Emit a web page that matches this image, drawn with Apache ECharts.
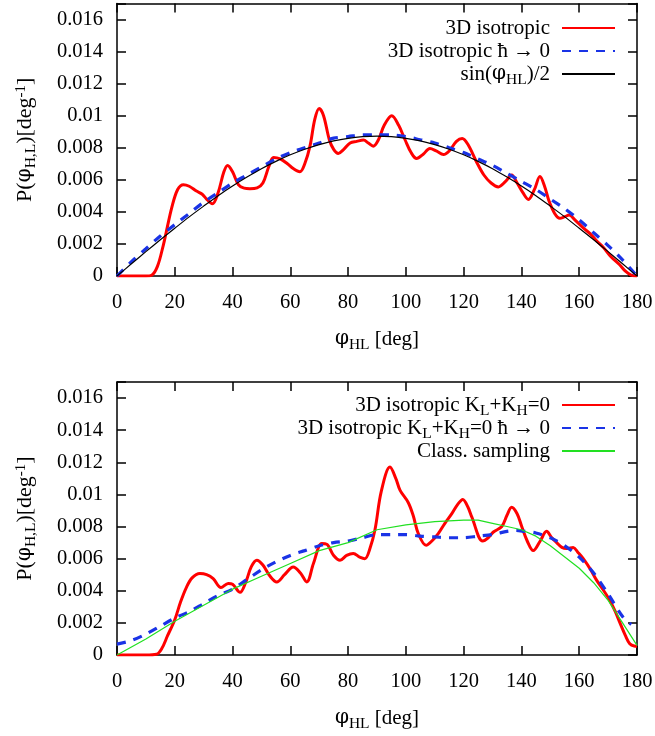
<!DOCTYPE html>
<html><head><meta charset="utf-8">
<script src="https://cdn.jsdelivr.net/npm/echarts@6/dist/echarts.min.js"></script>
<style>html,body{margin:0;padding:0;background:#fff}#c{width:655px;height:736px}</style>
</head><body><div id="c"></div>
<script>
// ---------- top panel data ----------
const topRedX = [0,5,10,12,14,16,17,19,21,23,25,27.5,29.5,31,33,35,37,38.3,40,42,44,46,48.5,50.5,52.5,54.2,56.5,59,61,63.3,65,66.8,68.5,70,71.5,73.5,75,76.6,78.5,80.7,83,85.3,87,88.7,90.5,92.5,95.1,97.5,99.7,101.8,103.7,106,108.3,110.5,113,115,117.5,119.5,121.5,124.5,127,129.5,132,134.5,136.6,138.5,140.5,142.4,144.5,146.4,148,149.5,151.5,153.3,155,156.5,158.5,161.4,164,166,168.3,171,174,176,178,180];
const topRedY = [0,0,0,0.00005,0.0006,0.0019,0.0027,0.0043,0.0054,0.0057,0.0056,0.0053,0.0051,0.0048,0.0045,0.0052,0.0065,0.0069,0.0065,0.0057,0.00548,0.00545,0.0055,0.0058,0.0068,0.0074,0.0073,0.0070,0.0067,0.0065,0.0070,0.0081,0.0098,0.01045,0.0100,0.0085,0.0079,0.00765,0.0079,0.0083,0.0084,0.00848,0.0083,0.0081,0.0085,0.0094,0.0100,0.0094,0.0085,0.0077,0.00733,0.0076,0.00795,0.0078,0.00758,0.0078,0.0084,0.00858,0.0082,0.0071,0.0063,0.0058,0.00556,0.0059,0.0063,0.0058,0.0052,0.00478,0.0054,0.0062,0.0056,0.0047,0.0039,0.0036,0.0037,0.0038,0.0035,0.0030,0.0026,0.0022,0.0018,0.0012,0.0007,0.0003,0.00005,0];
const topBlueX = [0,5,10,15,20,25,30,35,40,45,50,55,60,65,70,75,80,85,90,95,100,105,110,115,120,125,130,135,140,145,150,155,160,165,170,175,180];
const topBlueY = [0,0.0009,0.0017,0.0025,0.0032,0.0039,0.0046,0.0052,0.0058,0.0063,0.0068,0.0073,0.0077,0.0080,0.0083,0.0086,0.0087,0.0088,0.0088,0.0088,0.0087,0.0085,0.0083,0.0080,0.0077,0.0073,0.0069,0.0064,0.0059,0.0054,0.0048,0.0042,0.0035,0.0027,0.0019,0.0010,0];
const topBlackX = [0,5,10,15,20,25,30,35,40,45,50,55,60,65,70,75,80,85,90,95,100,105,110,115,120,125,130,135,140,145,150,155,160,165,170,175,180];
const topBlackY = [0,0.00076,0.00152,0.00226,0.00298,0.00369,0.00436,0.00501,0.00561,0.00617,0.00669,0.00715,0.00756,0.00791,0.00820,0.00843,0.00859,0.00869,0.00873,0.00869,0.00859,0.00843,0.00820,0.00791,0.00756,0.00715,0.00669,0.00617,0.00561,0.00501,0.00436,0.00369,0.00298,0.00226,0.00152,0.00076,0];

// ---------- bottom panel data ----------
const botRedX = [0,10,13.7,15.5,17.5,20,22,24,26,28.7,31,33.3,36,38.5,40,42.6,44.5,46.5,48.4,50.5,53,55.3,58,61,63.5,65.7,68,70.9,72.6,75,77.2,79.5,81.8,84,85.8,87.5,89.3,91.5,94.5,96.5,98,100.8,102.5,104.3,107,109,111.2,113.5,115.9,118,119.7,121.5,122.8,126.6,128.5,130.3,133.2,135,136.6,138.5,140.1,142,144.1,146.5,148.7,150.5,152.2,154,155.7,157.9,159.5,161.4,164,166,168.5,170.6,172.5,174.1,176,177.5,179,180];
const botRedY = [0,0,0.00005,0.0004,0.0012,0.0022,0.0033,0.0042,0.0048,0.00507,0.0050,0.00475,0.0042,0.00445,0.0044,0.0039,0.0045,0.0055,0.0059,0.0056,0.0049,0.00455,0.0050,0.00548,0.0051,0.00455,0.0057,0.00694,0.0069,0.0062,0.0059,0.0062,0.00632,0.0061,0.0060,0.0066,0.0078,0.0102,0.0117,0.0110,0.01025,0.0095,0.0087,0.00756,0.00683,0.0071,0.00756,0.0082,0.0088,0.0094,0.00969,0.0092,0.0086,0.0071,0.0073,0.00766,0.0080,0.0087,0.0092,0.0088,0.0080,0.0071,0.0065,0.0071,0.0077,0.0073,0.0070,0.0067,0.00663,0.0067,0.0064,0.0060,0.0053,0.00466,0.0040,0.0034,0.0027,0.0020,0.0012,0.0007,0.00056,0.00055];
const botBlueX = [0,5,10,15,20,25,30,35,40,45,50,55,60,65,70,75,80,85,90,95,100,105,110,115,120,125,130,135,138,141,145,150,155,160,165,170,175,178];
const botBlueY = [0.00068,0.0009,0.0013,0.0018,0.0023,0.0027,0.0032,0.0037,0.0041,0.0047,0.0053,0.0058,0.0062,0.0065,0.0068,0.0070,0.0071,0.0073,0.0075,0.0075,0.0075,0.0074,0.00735,0.0073,0.0073,0.0074,0.0075,0.0077,0.00776,0.0077,0.0076,0.0073,0.0068,0.0061,0.0051,0.0038,0.0024,0.0019];
const botGreenX = [0,10,20,30,40,50,60,70,80,90,100,110,120,125,130,135,140,145,150,155,160,165,170,175,180];
const botGreenY = [0,0.0010,0.0021,0.0031,0.0041,0.0049,0.0057,0.0065,0.0070,0.0078,0.0081,0.0083,0.0084,0.0084,0.0082,0.0080,0.0078,0.0074,0.0068,0.0061,0.0054,0.0045,0.0034,0.0020,0.0006];

const xTickStep = 20, yTickStep = 0.002;
const topNames = ['3D isotropic', '3D isotropic \u0127 \u2192 0', 'sin(\u03c6HL)/2'];
const topLabels = ['3D isotropic', '3D isotropic \u0127 \u2192 0', 'sin({phi|\u03c6}{sub|HL})/2'];
const botNames = ['3D isotropic KL+KH=0', '3D isotropic KL+KH=0 \u0127 \u2192 0', 'Class. sampling'];
const botLabels = ['3D isotropic K{sub|L}+K{sub|H}=0', '3D isotropic K{sub|L}+K{sub|H}=0 \u0127 \u2192 0', 'Class. sampling'];
const xTitle = '{phi|\u03c6}{sub|HL} [deg]';
const yTitle = 'P({phi|\u03c6}{sub|H,L})[deg{sup|-1}]';

const FONT = '"Liberation Serif", "Times New Roman", serif';
const rich = {
  phi: {fontFamily: '"DejaVu Serif", serif', fontSize: 20, color: '#000'},
  sub: {fontFamily: FONT, fontSize: 15.5, lineHeight: 6, verticalAlign: 'top', padding: [9, 0, 0, 0], color: '#000'},
  sup: {fontFamily: FONT, fontSize: 15, lineHeight: 11, verticalAlign: 'top', color: '#000'}
};
const pairs = (xs, ys) => xs.map((x, i) => [x, ys[i]]);

function xAxes(g) {
  const base = {
    gridIndex: g, type: 'value', min: 0, max: 180, interval: xTickStep,
    axisLine: {show: true, onZero: false, lineStyle: {color: '#000', width: 1.5}},
    axisTick: {show: true, inside: true, length: 9, lineStyle: {color: '#000', width: 1.5}},
    splitLine: {show: false}
  };
  return [
    Object.assign({}, base, {
      position: 'bottom',
      axisLabel: {show: true, margin: 16, color: '#000', fontFamily: FONT, fontSize: 20.5, showMinLabel: true, showMaxLabel: true},
      name: xTitle, nameLocation: 'middle', nameGap: 52,
      nameTextStyle: {color: '#000', fontFamily: FONT, fontSize: 21, lineHeight: 22, rich: rich}
    }),
    Object.assign({}, base, {position: 'top', axisLabel: {show: false}})
  ];
}
function yAxes(g) {
  const base = {
    gridIndex: g, type: 'value', min: 0, max: 0.017, interval: yTickStep,
    axisLine: {show: true, onZero: false, lineStyle: {color: '#000', width: 1.5}},
    axisTick: {show: true, inside: true, length: 9, lineStyle: {color: '#000', width: 1.5}},
    splitLine: {show: false}
  };
  return [
    Object.assign({}, base, {
      position: 'left',
      axisLabel: {show: true, margin: 14, color: '#000', fontFamily: FONT, fontSize: 20.5, showMinLabel: true, showMaxLabel: true,
        formatter: v => (v > 0.0165 ? '' : String(+v.toFixed(3)))},
      name: yTitle, nameLocation: 'middle', nameGap: 81, nameRotate: 90,
      nameTextStyle: {color: '#000', fontFamily: FONT, fontSize: 22, lineHeight: 22, rich: rich}
    }),
    Object.assign({}, base, {position: 'right', axisLabel: {show: false}})
  ];
}
function legendFor(names, labels, top, gap) {
  return {
    orient: 'vertical', align: 'right', right: 34, top: top,
    itemWidth: 53, itemHeight: 12, itemGap: gap,
    data: names, selectedMode: false,
    itemStyle: {opacity: 0, borderWidth: 0},
    formatter: n => labels[names.indexOf(n)],
    textStyle: {color: '#000', fontFamily: FONT, fontSize: 21, lineHeight: 22, padding: [0, 7, 0, 0], rich: rich}
  };
}
const lineBase = {type: 'line', showSymbol: false, symbol: 'none', animation: false};

const option = {
  animation: false,
  backgroundColor: '#fff',
  grid: [
    {left: 117, right: 18, top: 3.5, height: 272.5, outerBoundsMode: 'none', containLabel: false},
    {left: 117, right: 18, top: 382, height: 273, outerBoundsMode: 'none', containLabel: false}
  ],
  xAxis: xAxes(0).concat(xAxes(1)),
  yAxis: yAxes(0).concat(yAxes(1)),
  legend: [legendFor(topNames, topLabels, 12, 1), legendFor(botNames, botLabels, 389, -2)],
  series: [
    Object.assign({}, lineBase, {name: topNames[0], xAxisIndex: 0, yAxisIndex: 0, smooth: 0.35,
      data: pairs(topRedX, topRedY), color: '#ff0000', lineStyle: {color: '#ff0000', width: 3}}),
    Object.assign({}, lineBase, {name: topNames[1], xAxisIndex: 0, yAxisIndex: 0, smooth: 0.3,
      data: pairs(topBlueX, topBlueY), color: '#1a33e6', lineStyle: {color: '#1a33e6', width: 3.2, type: [9, 8]}}),
    Object.assign({}, lineBase, {name: topNames[2], xAxisIndex: 0, yAxisIndex: 0, smooth: 0.3,
      data: pairs(topBlackX, topBlackY), color: '#000', lineStyle: {color: '#000', width: 1.2}}),
    Object.assign({}, lineBase, {name: botNames[0], xAxisIndex: 2, yAxisIndex: 2, smooth: 0.35,
      data: pairs(botRedX, botRedY), color: '#ff0000', lineStyle: {color: '#ff0000', width: 3}}),
    Object.assign({}, lineBase, {name: botNames[1], xAxisIndex: 2, yAxisIndex: 2, smooth: 0.3,
      data: pairs(botBlueX, botBlueY), color: '#1a33e6', lineStyle: {color: '#1a33e6', width: 3.2, type: [9, 8]}}),
    Object.assign({}, lineBase, {name: botNames[2], xAxisIndex: 2, yAxisIndex: 2, smooth: false,
      data: pairs(botGreenX, botGreenY), color: '#22e022', lineStyle: {color: '#22e022', width: 1.2}})
  ]
};
const chart = echarts.init(document.getElementById('c'), null, {renderer: 'canvas'});
chart.setOption(option);
</script></body></html>
